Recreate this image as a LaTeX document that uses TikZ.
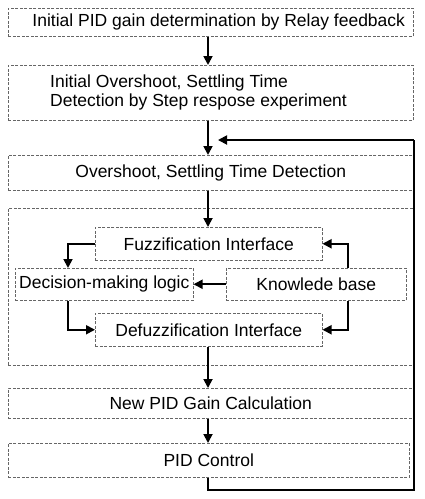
\documentclass[tikz,border=0pt]{standalone}
\usepackage{fontspec}
\setmainfont{Liberation Sans}
\usetikzlibrary{arrows.meta,calc}
\begin{document}
\begin{tikzpicture}[x=1pt,y=-1pt,
  box/.style={draw=black!60,dashed,dash pattern=on 3pt off 1.5pt,line width=0.5pt},
  lbl/.style={font=\fontsize{17.5}{19}\selectfont,inner sep=0pt},
  arr/.style={line width=1.8pt,-{Triangle[length=9pt,width=9pt]}},
  fb/.style={line width=1.2pt}]
\useasboundingbox (0,0) rectangle (424,499);
% boxes
\node[box,minimum width=405pt,minimum height=28pt,anchor=north west] (b1) at (8,8) {};
\node[lbl] at ($(b1.center)+(8,0)$) {Initial PID gain determination by Relay feedback};
\node[box,minimum width=405pt,minimum height=55pt,anchor=north west] (b2) at (8,65) {};
\node[lbl,align=left,anchor=west] at ($(b2.west)+(42,0)$) {Initial Overshoot, Settling Time\\Detection by Step respose experiment};
\node[box,minimum width=405pt,minimum height=35pt,anchor=north west] (b3) at (8,155) {};
\node[lbl] at (b3.center) {Overshoot, Settling Time Detection};
\node[box,minimum width=405pt,minimum height=157pt,anchor=north west] (big) at (8,208) {};
\node[box,minimum width=227pt,minimum height=33pt,anchor=north west] (fz) at (95,227) {};
\node[lbl] at (fz.center) {Fuzzification Interface};
\node[box,minimum width=178pt,minimum height=32pt,anchor=north west] (dm) at (15,268) {};
\node[lbl] at (dm.center) {Decision-making logic};
\node[box,minimum width=180pt,minimum height=32pt,anchor=north west] (kb) at (226,268) {};
\node[lbl] at (kb.center) {Knowlede base};
\node[box,minimum width=227pt,minimum height=33pt,anchor=north west] (df) at (95,313) {};
\node[lbl] at (df.center) {Defuzzification Interface};
\node[box,minimum width=405pt,minimum height=30pt,anchor=north west] (b4) at (8,388) {};
\node[lbl] at (b4.center) {New PID Gain Calculation};
\node[box,minimum width=401pt,minimum height=34pt,anchor=north west] (b5) at (8,443) {};
\node[lbl] at (b5.center) {PID Control};
% arrows main chain
\coordinate (fbin) at (218,140);
\coordinate (fbr) at (414,140);
\coordinate (fbb) at (414,490);
\draw[arr] (b1.south -| 208,0) -- (b2.north -| 208,0);
\draw[arr] (b2.south -| 208,0) -- (b3.north -| 208,0);
\draw[arr] (b3.south -| 208,0) -- (fz.north -| 208,0);
\draw[arr] (df.south -| 208,0) -- (b4.north -| 208,0);
\draw[arr] (b4.south -| 208,0) -- (b5.north -| 208,0);
% fuzzy block
\draw[arr] (fz.west) -| (dm.north -| 68,0);
\draw[arr] (kb.north -| 348,0) |- (fz.east);
\draw[arr] (kb.west) -- (dm.east);
\draw[arr] (dm.south -| 68,0) |- (df.west);
\draw[arr] (kb.south -| 348,0) |- (df.east);
% feedback
\draw[fb] (b5.south -| 208,0) |- (fbb) -- (fbr);
\draw[arr] (fbr) -- (fbin);
\end{tikzpicture}
\end{document}
